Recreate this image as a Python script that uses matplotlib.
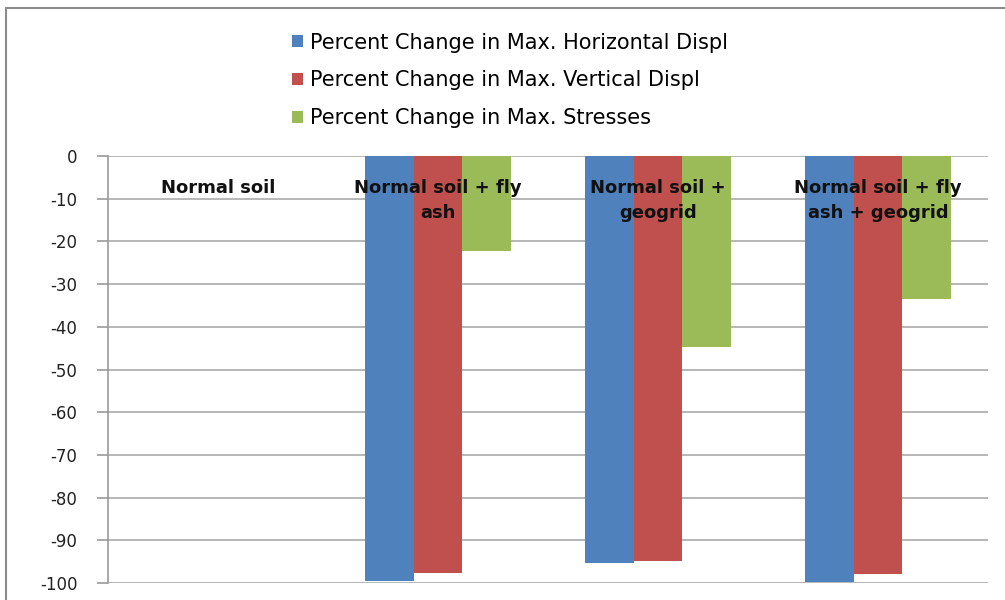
import numpy as np
import matplotlib
matplotlib.use("Agg")
import matplotlib.pyplot as plt
from matplotlib.patches import Rectangle

categories = ["Normal soil", "Normal soil + fly\nash", "Normal soil +\ngeogrid", "Normal soil + fly\nash + geogrid"]
series_names = ["Percent Change in Max. Horizontal Displ",
                "Percent Change in Max. Vertical Displ",
                "Percent Change in Max. Stresses"]
horizontal = [0, -99.5, -95.2, -99.7]
vertical = [0, -97.7, -94.9, -98.0]
stresses = [0, -22.2, -44.7, -33.6]
colors = ["#4F81BD", "#C0504D", "#9BBB59"]

plt.rcParams["axes.unicode_minus"] = False


def main():
    fig = plt.figure(figsize=(10.05, 6.0), dpi=100)
    ax = fig.add_axes([0.1075, 0.0283, 0.8756, 0.7117])

    x = np.arange(len(categories))
    width = 0.22
    handles = []
    for i, (vals, name) in enumerate(zip([horizontal, vertical, stresses], series_names)):
        h = ax.bar(x + (i - 1) * width, vals, width, color=colors[i], label=name, zorder=3)
        handles.append(h)

    ax.set_xlim(-0.5, len(categories) - 0.5)
    ax.set_ylim(-100, 0)
    ax.set_yticks(np.arange(-100, 1, 10))
    ax.yaxis.grid(True, color="#B7B7B7", linewidth=1.4, zorder=0)
    ax.set_xticks([])
    for side in ["top", "right", "bottom"]:
        ax.spines[side].set_visible(False)
    ax.spines["left"].set_color("#9A9A9A")
    ax.spines["left"].set_linewidth(1.2)
    ax.tick_params(axis="y", length=8, width=1.2, color="#9A9A9A", pad=14,
                   labelsize=12, labelcolor="#222222")

    for xi, label in zip(x, categories):
        ax.text(xi, -5.4, label, ha="center", va="top", fontsize=13,
                fontweight="bold", family="DejaVu Sans", color="#111111",
                linespacing=1.5, zorder=4)

    fig.legend(handles=handles, labels=series_names, loc="upper left",
               bbox_to_anchor=(0.272, 0.977), frameon=False,
               prop={"family": "DejaVu Sans", "size": 15}, handlelength=0.5,
               handleheight=0.5, handletextpad=0.35, labelspacing=0.85)

    # outer chart border
    fig.patches.append(Rectangle((0.006, -0.02), 1.2, 1.007, transform=fig.transFigure,
                                 fill=False, edgecolor="#8C8C8C", linewidth=1.5))

    fig.savefig("out.png", dpi=100)


if __name__ == '__main__':
    main()
